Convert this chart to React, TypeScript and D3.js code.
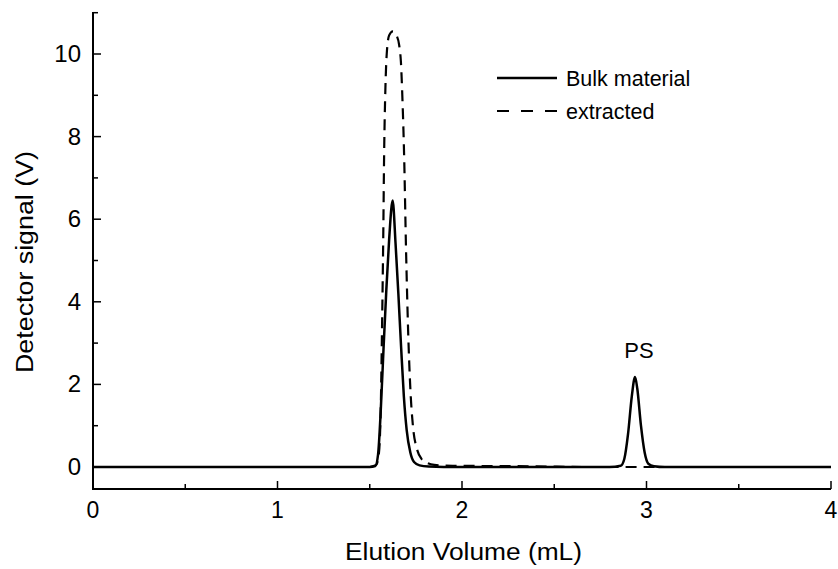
import React from "react";
import * as d3 from "d3";

const bulkX = [0, 1.5, 1.53, 1.545, 1.56, 1.575, 1.59, 1.605, 1.624, 1.64, 1.655, 1.67, 1.685, 1.7, 1.72, 1.74, 1.77, 1.82, 1.9, 2.8, 2.86, 2.88, 2.9, 2.92, 2.938, 2.95, 2.97, 2.99, 3.01, 3.04, 3.1, 4];
const bulkY = [0, 0, 0.02, 0.3, 1.4, 2.9, 4.3, 5.5, 6.45, 5.4, 4.2, 2.9, 1.7, 0.9, 0.35, 0.12, 0.04, 0.01, 0, 0, 0.03, 0.2, 0.8, 1.7, 2.18, 1.9, 1.0, 0.35, 0.08, 0.02, 0, 0];

const extX = [1.5, 1.535, 1.55, 1.56, 1.567, 1.573, 1.578, 1.585, 1.592, 1.605, 1.625, 1.645, 1.66, 1.669, 1.678, 1.686, 1.697, 1.708, 1.72, 1.735, 1.755, 1.78, 1.81, 1.85, 1.95, 2.3, 2.7, 4];
const extY = [0, 0.05, 0.35, 1.5, 3.5, 5.5, 7.6, 9.2, 10.0, 10.45, 10.55, 10.45, 10.2, 9.8, 8.8, 7.6, 5.2, 3.3, 1.9, 0.95, 0.45, 0.2, 0.1, 0.05, 0.03, 0.02, 0.0, 0];

const xMajor = [0, 1, 2, 3, 4];
const xMinor = [0.5, 1.5, 2.5, 3.5];
const yMajor = [0, 2, 4, 6, 8, 10];
const yMinor = [1, 3, 5, 7, 9, 11];

const legendLabels = ["Bulk material", "extracted"];
const annotation = { text: "PS", x: 2.94, y: 2.6 };

export default function App() {
  const W = 838, H = 569;
  const left = 93, right = 831, top = 12, bottom = 489;
  const x = d3.scaleLinear().domain([0, 4]).range([left, right]);
  const y = d3.scaleLinear().domain([0, 10]).range([467, 54]);
  const line = d3.line<[number, number]>().x(d => x(d[0])).y(d => y(d[1])).curve(d3.curveMonotoneX);
  const bulk = bulkX.map((v, i) => [v, bulkY[i]] as [number, number]);
  const ext = extX.map((v, i) => [v, extY[i]] as [number, number]);
  const font = "Liberation Sans, Arial, sans-serif";

  return (
    <svg width={W} height={H} style={{ position: "absolute", left: 0, top: 0, background: "#fff" }}>
      <rect width={W} height={H} fill="#fff" />
      {/* axes */}
      <line x1={left} x2={left} y1={top} y2={bottom} stroke="#000" strokeWidth={2} />
      <line x1={left - 1} x2={right} y1={bottom} y2={bottom} stroke="#000" strokeWidth={2} />
      {xMajor.map(t => (
        <g key={"xm" + t}>
          <line x1={x(t)} x2={x(t)} y1={bottom} y2={bottom - 8} stroke="#000" strokeWidth={1.5} />
          <text x={x(t)} y={bottom + 29} textAnchor="middle" fontFamily={font} fontSize={23}>{t}</text>
        </g>
      ))}
      {xMinor.map(t => (
        <line key={"xn" + t} x1={x(t)} x2={x(t)} y1={bottom} y2={bottom - 5} stroke="#000" strokeWidth={1.5} />
      ))}
      {yMajor.map(t => (
        <g key={"ym" + t}>
          <line x1={left} x2={left + 8} y1={y(t)} y2={y(t)} stroke="#000" strokeWidth={1.5} />
          <text x={left - 12} y={y(t) + 8} textAnchor="end" fontFamily={font} fontSize={24}>{t}</text>
        </g>
      ))}
      {yMinor.map(t => (
        <line key={"yn" + t} x1={left} x2={left + 5} y1={y(t)} y2={y(t)} stroke="#000" strokeWidth={1.5} />
      ))}
      <text x={463.5} y={560} textAnchor="middle" fontFamily={font} fontSize={23} textLength={237} lengthAdjust="spacingAndGlyphs">Elution Volume (mL)</text>
      <text transform={`translate(33,262) rotate(-90)`} textAnchor="middle" fontFamily={font} fontSize={23} textLength={222} lengthAdjust="spacingAndGlyphs">Detector signal (V)</text>
      {/* curves */}
      <path d={line(ext) || ""} fill="none" stroke="#000" strokeWidth={2.2} strokeDasharray="11,7" />
      <path d={line(bulk) || ""} fill="none" stroke="#000" strokeWidth={2.5} />
      <text x={639} y={358} textAnchor="middle" fontFamily={font} fontSize={22}>{annotation.text}</text>
      {/* legend */}
      <line x1={497} x2={557} y1={78} y2={78} stroke="#000" strokeWidth={2.5} />
      <text x={566} y={86} fontFamily={font} fontSize={21.5}>{legendLabels[0]}</text>
      <line x1={497} x2={557} y1={111} y2={111} stroke="#000" strokeWidth={2.2} strokeDasharray="12,12" />
      <text x={566} y={119} fontFamily={font} fontSize={21.5}>{legendLabels[1]}</text>
    </svg>
  );
}
